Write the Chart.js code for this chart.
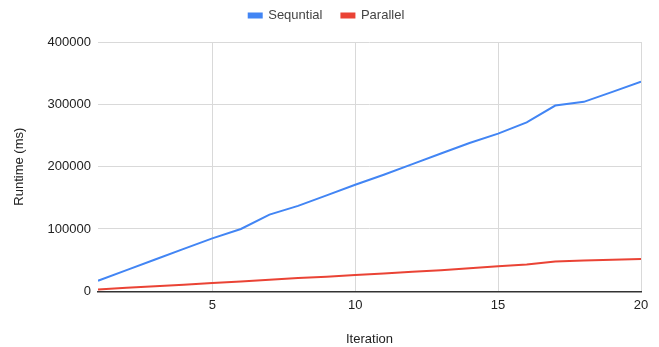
<!DOCTYPE html>
<html>
<head>
<meta charset="utf-8">
<script src="https://cdn.jsdelivr.net/npm/chart.js@4/dist/chart.umd.min.js"></script>
<style>
  html, body { margin: 0; padding: 0; background: #fff; }
  #wrap { width: 659px; height: 347px; position: relative; }
</style>
</head>
<body>
<div id="wrap"><canvas id="c"></canvas></div>
<script>
const iterations = [1,2,3,4,5,6,7,8,9,10,11,12,13,14,15,16,17,18,19,20];
const sequential = [17000,34000,51000,68000,85000,100000,123000,137000,154000,171000,187000,204000,221000,238000,253000,271000,298000,304000,320000,336500];
const parallel = [3000,5500,8000,10500,13200,15800,18500,21200,23500,26000,28500,31500,33800,37000,40300,43000,47800,49500,50800,52000];
const xTickValues = [5,10,15,20];
const yTickValues = [0,100000,200000,300000,400000];
const seriesNames = ['Sequntial','Parallel'];

const FONT = "'Liberation Sans', Arial, sans-serif";
Chart.defaults.font.family = FONT;
Chart.defaults.font.size = 13;
Chart.defaults.color = '#444';

const legendGap = {
  id: 'legendGap',
  beforeInit(chart) {
    const origFit = chart.legend.fit;
    chart.legend.fit = function () {
      origFit.bind(chart.legend)();
      this.height += 10;
    };
  }
};

new Chart(document.getElementById('c'), {
  type: 'line',
  plugins: [legendGap],
  data: {
    datasets: [
      { label: seriesNames[0], data: iterations.map((x,i)=>({x, y: sequential[i]})),
        borderColor: '#4285F4', backgroundColor: '#4285F4', borderWidth: 2, pointRadius: 0, tension: 0 },
      { label: seriesNames[1], data: iterations.map((x,i)=>({x, y: parallel[i]})),
        borderColor: '#EA4335', backgroundColor: '#EA4335', borderWidth: 2, pointRadius: 0, tension: 0 }
    ]
  },
  options: {
    responsive: true,
    maintainAspectRatio: false,
    animation: false,
    layout: { padding: { left: 12, right: 18, top: -10, bottom: 0 } },
    plugins: {
      tooltip: { enabled: false },
      legend: {
        position: 'top',
        align: 'center',
        labels: { boxWidth: 13, boxHeight: 4, padding: 19, color: '#444', font: { size: 13 } }
      }
    },
    scales: {
      x: {
        type: 'linear',
        min: 1, max: 20,
        afterBuildTicks: axis => { axis.ticks = xTickValues.map(v => ({ value: v })); },
        ticks: { padding: 6, color: '#222', maxRotation: 0, autoSkip: false },
        grid: { color: '#d9d9d9', lineWidth: 1, drawTicks: false },
        border: { display: true, color: '#333', width: 1.5 },
        title: { display: true, text: 'Iteration', color: '#222', padding: { top: 12.5, bottom: 0 } }
      },
      y: {
        min: 0, max: 400000,
        afterBuildTicks: axis => { axis.ticks = yTickValues.map(v => ({ value: v })); },
        ticks: { padding: 7, color: '#222', callback: v => String(v) },
        grid: { color: '#d9d9d9', lineWidth: 1, drawTicks: false },
        border: { display: false },
        title: { display: true, text: 'Runtime (ms)', color: '#222', padding: { top: 0, bottom: 13 } }
      }
    }
  }
});
</script>
</body>
</html>
